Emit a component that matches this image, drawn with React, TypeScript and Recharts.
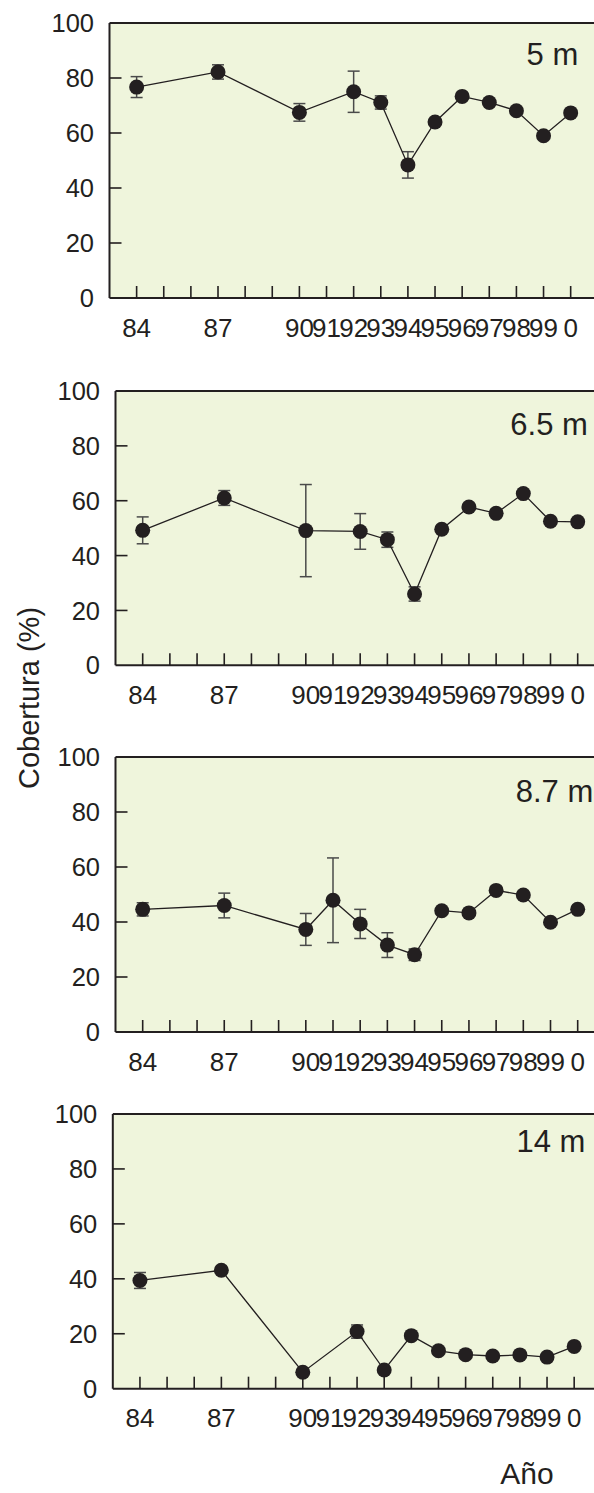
import { LineChart, Line, XAxis, YAxis, CartesianGrid, ErrorBar, ReferenceLine } from 'recharts'

// years sampled (100 = 2000); the 8.7 m site also has 1991
const YEARS = [84, 87, 90, 92, 93, 94, 95, 96, 97, 98, 99, 100]
const YEARS_87 = [84, 87, 90, 91, 92, 93, 94, 95, 96, 97, 98, 99, 100]

const COVER_5 = [76.7, 82.2, 67.5, 75.0, 71.1, 48.4, 64.0, 73.3, 71.1, 68.1, 59.0, 67.3]
const ERR_5 = [3.8, 2.6, 3.2, 7.5, 2.4, 4.8, 0, 0, 0, 0, 0, 0]

const COVER_65 = [49.2, 61.0, 49.1, 48.8, 45.8, 26.0, 49.6, 57.7, 55.4, 62.6, 52.5, 52.3]
const ERR_65 = [4.9, 2.7, 16.8, 6.5, 2.8, 2.6, 0, 0, 0, 0, 0, 0]

const COVER_87 = [44.6, 46.0, 37.3, 47.9, 39.3, 31.6, 28.1, 44.1, 43.3, 51.5, 49.8, 39.9, 44.6]
const ERR_87 = [2.4, 4.5, 5.8, 15.4, 5.3, 4.5, 2.1, 0, 0, 0, 0, 0, 0]

const COVER_14 = [39.4, 43.1, 6.0, 20.8, 6.8, 19.3, 13.8, 12.4, 11.9, 12.3, 11.5, 15.4]
const ERR_14 = [2.9, 0, 0, 2.4, 0, 0, 0, 0, 0, 0, 0, 0]

const X_TICKS = [84, 85, 86, 87, 88, 89, 90, 91, 92, 93, 94, 95, 96, 97, 98, 99, 100]
const X_LABELS = ['84', '', '', '87', '', '', '90', '91', '92', '93', '94', '95', '96', '97', '98', '99', '0']
const Y_TICKS = [0, 20, 40, 60, 80, 100]

const INK = '#231f20'
const BG = '#eff5dc'
const FONT = '"Liberation Sans", Arial, Helvetica, sans-serif'

const PANELS = [
  { name: '5 m', years: YEARS, cover: COVER_5, err: ERR_5, top: 23.3, bottom: 298.3, left: 109.5, xMax: 100.86, lx: 526.6, ly: 65 },
  { name: '6.5 m', years: YEARS, cover: COVER_65, err: ERR_65, top: 390.7, bottom: 665, left: 115.5, xMax: 100.6, lx: 510.3, ly: 435 },
  { name: '8.7 m', years: YEARS_87, cover: COVER_87, err: ERR_87, top: 756.7, bottom: 1031.7, left: 115.5, xMax: 100.6, lx: 515.7, ly: 801.7 },
  { name: '14 m', years: YEARS, cover: COVER_14, err: ERR_14, top: 1114.3, bottom: 1389, left: 112.8, xMax: 100.73, lx: 516.4, ly: 1151.7 },
]

const PAD_TOP = 20
const X_AXIS_H = 50
const Y_AXIS_W = 60

function XTick(props: any) {
  const { x, y, payload } = props
  const label = X_LABELS[X_TICKS.indexOf(payload.value)]
  return (
    <g>
      <line x1={x} y1={y} x2={x} y2={y - 12} stroke={INK} strokeWidth={1.6} />
      <text x={x} y={y + 38.5} textAnchor="middle" fontSize={26} fill={INK} fontFamily={FONT}>
        {label}
      </text>
    </g>
  )
}

function YTick(props: any) {
  const { x, y, payload } = props
  const v = payload.value
  return (
    <g>
      {v > 0 && v < 100 && <line x1={x} y1={y} x2={x + 12} y2={y} stroke={INK} strokeWidth={1.6} />}
      <text x={x - 15.5} y={y} dy="0.36em" textAnchor="end" fontSize={25.5} fill={INK} fontFamily={FONT}>
        {v}
      </text>
    </g>
  )
}

function Panel({ p }: { p: (typeof PANELS)[number] }) {
  const data = p.years.map((year, i) => ({ year, cover: p.cover[i], err: p.err[i] }))
  const height = p.bottom - p.top + PAD_TOP + X_AXIS_H
  return (
    <div style={{ position: 'absolute', left: 0, top: p.top - PAD_TOP }}>
      <LineChart
        width={594}
        height={height}
        data={data}
        margin={{ top: PAD_TOP, right: 0, bottom: 0, left: p.left - Y_AXIS_W }}
      >
        <CartesianGrid fill={BG} fillOpacity={1} horizontal={false} vertical={false} stroke="none" />
        <ReferenceLine y={100} stroke={INK} strokeWidth={2} />
        <XAxis
          dataKey="year"
          type="number"
          domain={[83, p.xMax]}
          ticks={X_TICKS}
          interval={0}
          height={X_AXIS_H}
          tickSize={0}
          tickMargin={0}
          tickLine={false}
          axisLine={{ stroke: INK, strokeWidth: 2 }}
          tick={<XTick />}
          allowDataOverflow
        />
        <YAxis
          domain={[0, 100]}
          ticks={Y_TICKS}
          interval={0}
          width={Y_AXIS_W}
          tickSize={0}
          tickMargin={0}
          tickLine={false}
          axisLine={{ stroke: INK, strokeWidth: 2 }}
          tick={<YTick />}
        />
        <Line
          type="linear"
          dataKey="cover"
          stroke={INK}
          strokeWidth={1.3}
          dot={{ r: 7.5, fill: INK, stroke: 'none' }}
          activeDot={false}
          isAnimationActive={false}
        >
          <ErrorBar dataKey="err" width={6} stroke="#4a4a4a" strokeWidth={1.5} direction="y" />
        </Line>
      </LineChart>
    </div>
  )
}

export default function App() {
  return (
    <div style={{ position: 'absolute', left: 0, top: 0, width: 594, height: 1493, overflow: 'hidden', fontFamily: FONT, background: '#fff' }}>
      {PANELS.map(p => (
        <Panel key={p.name} p={p} />
      ))}
      <svg width={594} height={1493} style={{ position: 'absolute', left: 0, top: 0, pointerEvents: 'none' }}>
        {PANELS.map(p => (
          <text key={p.name} x={p.lx} y={p.ly} fontSize={31} fill={INK} fontFamily={FONT}>
            {p.name}
          </text>
        ))}
        <text
          x={29}
          y={698}
          transform="rotate(-90 29 698)"
          textAnchor="middle"
          dy="0.36em"
          fontSize={29}
          fill={INK}
          fontFamily={FONT}
        >
          Cobertura (%)
        </text>
        <text x={527} y={1484} textAnchor="middle" fontSize={30} fill={INK} fontFamily={FONT}>
          Año
        </text>
      </svg>
    </div>
  )
}
